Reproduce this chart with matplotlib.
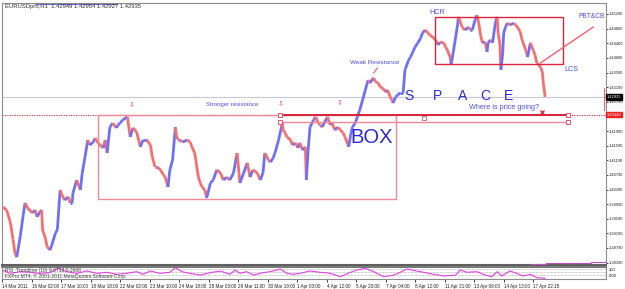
import numpy as np
import matplotlib
matplotlib.use("Agg")
import matplotlib.pyplot as plt
from matplotlib.collections import LineCollection
from matplotlib.patches import Rectangle

plt.rcParams['font.family'] = ['Liberation Sans', 'DejaVu Sans']

# ---------------- data ----------------
bars = [1, 5, 9, 12, 14, 16, 20, 23, 25, 28, 33, 36, 38, 41, 43, 44, 47, 49, 52, 54,
        58, 60, 63, 65, 68, 72, 74, 76, 77, 81, 85, 87, 90, 93, 95, 99, 101, 104, 110, 112,
        114, 117, 120, 124, 126, 128, 131, 136, 139, 142, 146, 150, 153, 157, 161, 163, 166, 168, 172, 175,
        177, 180, 182, 185, 188, 189, 191, 193, 196, 201, 204, 206, 209, 213, 215, 217, 220, 222, 226, 229,
        233, 237, 240, 244, 247, 251, 255, 258, 262, 266, 269, 272, 277, 280, 283, 285, 289, 291, 294, 296,
        300, 304, 305, 307, 309, 313, 315, 318, 321, 323, 326, 329, 330, 332, 334, 338, 340, 343, 345, 347,
        350, 353, 356, 358, 361, 364, 367, 370, 372, 376, 378, 380, 383, 385, 388, 391, 394, 397, 399, 403,
        405, 408, 410, 413, 416, 418, 421, 423, 424, 427, 429, 432, 435, 437, 441, 443, 445, 448, 451, 454,
        456, 459, 462, 464, 467, 470, 473, 475, 479, 481, 483, 486, 487, 488, 492, 494, 495, 497, 499, 502,
        506, 508, 510, 513, 515, 517, 519, 521, 524, 526, 527, 530, 532, 535, 537, 538, 540, 541, 543, 544,
        546, 548, 551, 555, 557, 559, 562, 564, 568, 570, 573, 576, 578, 580, 584, 586, 587, 589]
prices = [1.3991, 1.3983, 1.3950, 1.3902, 1.3865, 1.3854, 1.3914, 1.3969, 1.4002, 1.3988,
          1.3975, 1.3983, 1.3964, 1.3977, 1.3983, 1.3928, 1.3906, 1.3882, 1.3873, 1.3887,
          1.3920, 1.3928, 1.4038, 1.4024, 1.4010, 1.4019, 1.4002, 1.4002, 1.4030, 1.4065,
          1.4038, 1.4084, 1.4128, 1.4175, 1.4161, 1.4169, 1.4180, 1.4167, 1.4153, 1.4175,
          1.4139, 1.4210, 1.4221, 1.4208, 1.4216, 1.4221, 1.4230, 1.4238, 1.4183, 1.4208,
          1.4197, 1.4156, 1.4175, 1.4175, 1.4161, 1.4128, 1.4101, 1.4101, 1.4093, 1.4079,
          1.4073, 1.4046, 1.4093, 1.4120, 1.4210, 1.4188, 1.4175, 1.4175, 1.4169, 1.4175,
          1.4169, 1.4156, 1.4139, 1.4073, 1.4057, 1.4046, 1.4038, 1.4016, 1.4057, 1.4065,
          1.4093, 1.4084, 1.4065, 1.4073, 1.4065, 1.4084, 1.4139, 1.4057, 1.4084, 1.4112,
          1.4073, 1.4093, 1.4084, 1.4065, 1.4084, 1.4139, 1.4120, 1.4114, 1.4125, 1.4139,
          1.4175, 1.4221, 1.4202, 1.4194, 1.4183, 1.4175, 1.4161, 1.4167, 1.4153, 1.4167,
          1.4147, 1.4156, 1.4065, 1.4147, 1.4210, 1.4230, 1.4238, 1.4221, 1.4216, 1.4210,
          1.4224, 1.4238, 1.4216, 1.4221, 1.4202, 1.4210, 1.4202, 1.4194, 1.4183, 1.4156,
          1.4188, 1.4210, 1.4221, 1.4235, 1.4257, 1.4284, 1.4312, 1.4339, 1.4331, 1.4345,
          1.4334, 1.4331, 1.4320, 1.4317, 1.4306, 1.4312, 1.4293, 1.4284, 1.4276, 1.4293,
          1.4298, 1.4304, 1.4304, 1.4367, 1.4394, 1.4402, 1.4413, 1.4430, 1.4441, 1.4454,
          1.4468, 1.4476, 1.4468, 1.4462, 1.4457, 1.4449, 1.4435, 1.4443, 1.4441, 1.4430,
          1.4421, 1.4402, 1.4383, 1.4394, 1.4457, 1.4490, 1.4512, 1.4498, 1.4484, 1.4476,
          1.4484, 1.4476, 1.4476, 1.4504, 1.4517, 1.4495, 1.4462, 1.4441, 1.4443, 1.4416,
          1.4441, 1.4449, 1.4441, 1.4495, 1.4512, 1.4468, 1.4435, 1.4367, 1.4413, 1.4468,
          1.4484, 1.4495, 1.4490, 1.4495, 1.4490, 1.4484, 1.4471, 1.4449, 1.4421, 1.4402,
          1.4441, 1.4421, 1.4408, 1.4386, 1.4375, 1.4361, 1.4331, 1.4293]

osc_bars = [0, 9, 20, 30, 41, 52, 61, 70, 81, 92, 103, 114, 124, 135, 146, 153, 161, 171, 182, 188,
            195, 204, 215, 226, 237, 247, 253, 258, 265, 273, 283, 291, 302, 309, 316, 323, 334, 345,
            356, 367, 378, 385, 394, 403, 414, 425, 432, 439, 448, 457, 468, 479, 492, 497, 504, 515,
            524, 531, 537, 542, 551, 558, 565, 573, 580, 589]
osc_vals = [75, 47, 61, 56, 47, 53, 89, 61, 47, 67, 47, 56, 39, 47, 61, 39, 67, 47, 56, 94,
            61, 47, 33, 53, 67, 39, 75, 47, 61, 33, 53, 61, 83, 47, 39, 47, 67, 56,
            47, 19, 56, 75, 89, 61, 19, 33, 56, 83, 69, 56, 39, 25, 33, 75, 56, 61,
            33, 19, 61, 25, 67, 47, 25, 39, 11, 6]
osc_levels = [80, 55, 30]

tick_bars = list(range(0, 577, 32))
tick_labels = ["14 Mar 2011", "16 Mar 02:00", "17 Mar 10:00", "18 Mar 18:00", "22 Mar 02:00",
               "23 Mar 10:00", "24 Mar 18:00", "28 Mar 03:00", "29 Mar 11:00", "30 Mar 19:00",
               "1 Apr 03:00", "4 Apr 12:00", "5 Apr 20:00", "7 Apr 04:00", "8 Apr 12:00",
               "11 Apr 21:00", "13 Apr 09:00", "14 Apr 13:00", "17 Apr 22:15"]
price_ticks = [1.45200, 1.44800, 1.44400, 1.44000, 1.43590, 1.43190, 1.42790, 1.41990, 1.41590,
               1.41190, 1.40790, 1.40390, 1.39990, 1.39590, 1.39190, 1.38790, 1.38390]
bid = 1.42925
level = 1.42440
level2 = 1.4224
box_low = 1.4013
hcr_top, hcr_bot = 1.4512, 1.4383

# ---------------- figure ----------------
W, H = 625, 289
fig = plt.figure(figsize=(W / 100, H / 100), dpi=100)
fig.patch.set_facecolor('white')

def ax_rect(x0, y0, x1, y1):
    return [x0 / W, 1 - y1 / H, (x1 - x0) / W, (y1 - y0) / H]

ax = fig.add_axes(ax_rect(2, 3, 606, 265))
ax.set_xlim(0, 655)
ax.set_ylim(1.38323, 1.45501)
for s in ax.spines.values():
    s.set_color('#8c8c8c')
    s.set_linewidth(0.8)
ax.spines['bottom'].set_color('#606060')
ax.spines['bottom'].set_linewidth(1.5)

# bid line
ax.axhline(bid, color='#c8c8d8', lw=0.8, zorder=1)
# dotted horizontal level line
ax.axhline(level, color='#e02040', lw=0.8, ls=(0, (1, 1.2)), zorder=2)

# price path
pts = np.column_stack([bars, prices])
segs = np.stack([pts[:-1], pts[1:]], axis=1)
cols = ['#7070f4' if prices[i + 1] >= prices[i] else '#f47070' for i in range(len(prices) - 1)]
lc = LineCollection(segs, colors=cols, linewidths=2.0, zorder=3, capstyle='butt')
ax.add_collection(lc)

# BOX rectangle
ax.add_patch(Rectangle((104, box_low), 427 - 104, level - box_low, fill=False,
                       ec='#f08898', lw=1.0, zorder=4))
# trend lines (channel)
ax.plot([302, 614], [level, level], color='#d8243c', lw=1.4, zorder=5)
ax.plot([302, 614], [level2, level2], color='#f08898', lw=1.0, zorder=5)
ax.plot([302, 302, 614, 614], [level, level2, level, level2], ls='none', marker='s', ms=2.6,
        mfc='white', mec='#e05070', mew=0.7, zorder=6)
ax.plot([458], [1.4235], ls='none', marker='s', ms=2.2, mfc='white', mec='#e05070', mew=0.6, zorder=6)
ax.plot([586], [1.4252], ls='none', marker='x', ms=3, mec='#e02030', mew=0.9, zorder=6)

# HCR rectangle
ax.add_patch(Rectangle((470, hcr_bot), 608 - 470, hcr_top - hcr_bot, fill=False,
                       ec='#d8243c', lw=1.0, zorder=4))
# PBT&CB line
ax.plot([584, 641], [1.4386, 1.4484], color='#f06070', lw=1.0, zorder=5)
# small line under Weak Resistance
ax.plot([407, 403], [1.4372, 1.4358], color='#f06070', lw=0.8, zorder=5)
# red marker near axis
ax.plot([653, 653], [1.4317, 1.4257], color='#f06070', lw=0.8, zorder=5)
# stepped magenta line bottom right
ax.step([574, 590, 617, 639, 655], [1.38350, 1.38365, 1.38380, 1.38405, 1.38405],
        where='post', color='#c050c0', lw=0.8, zorder=5)

lab = '#5050e0'
ax.text(464, 1.4525, "HCR", color=lab, fontsize=5.2, ha='left', va='center')
ax.text(640, 1.4512, "PBT&CB", color=lab, fontsize=4.8, ha='center', va='center')
ax.text(610, 1.4369, "LCS", color=lab, fontsize=5.2, ha='left', va='center')
ax.text(377, 1.4386, "Weak Resistance", color=lab, fontsize=4.6, ha='left', va='center')
ax.text(221, 1.4273, "Stronger resistance", color=lab, fontsize=4.3, ha='left', va='center')
ax.text(506, 1.4265, "Where is price going?", color=lab, fontsize=5.2, ha='left', va='center')
big = '#2a2ad0'
for xb, ch in zip([441, 472, 499, 524, 549], "SPACE"):
    ax.text(xb, 1.4295, ch, color=big, fontsize=10, ha='center', va='center')
ax.text(401, 1.4182, "BOX", color=big, fontsize=14.5, ha='center', va='center')
for xb, yb in [(141, 1.4271), (302, 1.4273), (366, 1.4276)]:
    ax.text(xb, yb, "\u21e9", color='#f04050', fontsize=5, ha='center', va='center',
            family=['DejaVu Sans'])

ax.text(3, 1.4540, "EURUSDpro,H1  1.42949 1.42954 1.42927 1.42935", color='#303030',
        fontsize=4.2, ha='left', va='center')
ax.plot([36, 125], [1.4547, 1.4547], color='#6a6af2', lw=0.8)
ax.plot([120, 380], [1.4549, 1.4549], color='#c050c0', lw=0.6)

# y axis
ax.set_xticks([])
ax.yaxis.tick_right()
ax.set_yticks(price_ticks)
ax.set_yticklabels([f"{v:.5f}" for v in price_ticks])
ax.tick_params(axis='y', labelsize=2.9, length=1.2, width=0.6, pad=0.5, colors='#202020')
ax.text(1.0018, bid, f"{bid:.5f}", transform=ax.get_yaxis_transform(), fontsize=2.9, color='white',
        ha='left', va='center', bbox=dict(boxstyle='square,pad=0.15', fc='black', ec='black'))
ax.text(1.0018, level, f"{level:.5f}", transform=ax.get_yaxis_transform(), fontsize=2.9,
        color='white', ha='left', va='center',
        bbox=dict(boxstyle='square,pad=0.15', fc='#f02020', ec='#f02020'))

# ---------------- indicator panel ----------------
ax2 = fig.add_axes(ax_rect(2, 267, 606, 279))
ax2.set_xlim(0, 655)
ax2.set_ylim(0, 100)
for s in ax2.spines.values():
    s.set_color('#8c8c8c')
    s.set_linewidth(0.8)
ax2.spines['top'].set_color('#606060')
ax2.spines['top'].set_linewidth(1.2)
for lv in osc_levels:
    ax2.axhline(lv, color='#a0a0a0', lw=0.5, ls=(0, (1, 1)))
ax2.plot(osc_bars, osc_vals, color='#e040e0', lw=0.8)
ax2.text(3, 88, "RSI_Trendline (10) 9.0713 0.2668", fontsize=3.6, color='#404040',
         ha='left', va='top')
ax2.text(3, 45, "FXPro MT4, \u00a9 2001-2011 MetaQuotes Software Corp.", fontsize=3.6,
         color='#404040', ha='left', va='top')
ax2.yaxis.tick_right()
ax2.set_yticks([])
ax2.text(1.004, 0.75, "100", transform=ax2.transAxes, fontsize=3.0, ha='left', va='center')
ax2.text(1.004, 0.25, "0.00", transform=ax2.transAxes, fontsize=3.0, ha='left', va='center')
ax2.set_xticks(tick_bars)
ax2.set_xticklabels(tick_labels, ha='left')
ax2.tick_params(axis='x', labelsize=3.3, length=2, width=0.6, pad=1.5, colors='#202020')

fig.savefig("out.png", dpi=100, facecolor='white')
